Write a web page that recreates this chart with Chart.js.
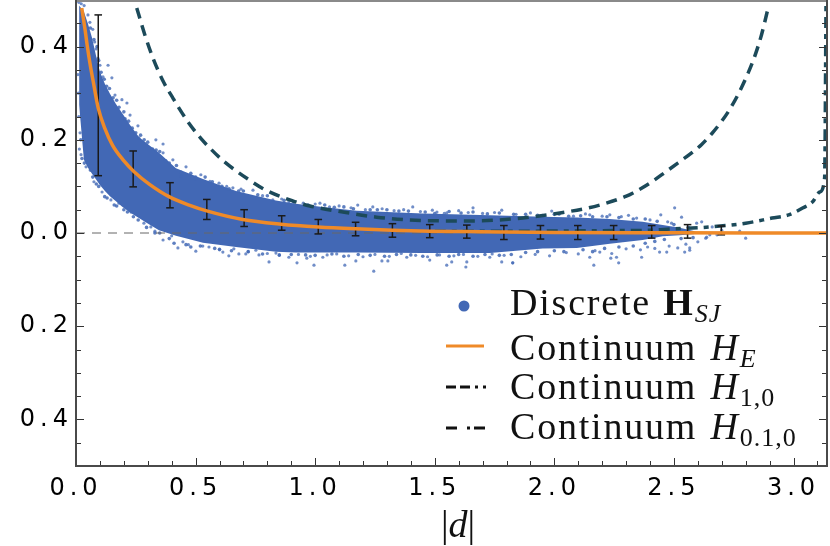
<!DOCTYPE html>
<html>
<head>
<meta charset="utf-8">
<script src="https://cdn.jsdelivr.net/npm/chart.js@4"></script>
<style>
  html, body { margin: 0; padding: 0; background: #fff; overflow: hidden; }
  #wrap { position: relative; width: 830px; height: 546px; }
  #chart { position: absolute; left: 0; top: 0; }
  .key { position: absolute; left: 510px; font: 38px/1 "Liberation Serif", serif; letter-spacing: 1.8px; white-space: nowrap; color: #111; }
  .key i { margin-left: 2px; }
  .key b { margin-left: 1px; }
  .key sub { font-size: 26px; line-height: 0; vertical-align: -7px; letter-spacing: 1px; }
  #xname { position: absolute; left: 441px; top: 505px; font: 38px/1 "Liberation Serif", serif; white-space: nowrap; color: #111; }
</style>
</head>
<body>
<div id="wrap">
  <canvas id="chart" width="830" height="546"></canvas>
  <div class="key" style="top:283px">Discrete <b>H</b><sub><i style="margin:0">SJ</i></sub></div>
  <div class="key" style="top:328px">Continuum <i>H</i><sub><i style="margin:0">E</i></sub></div>
  <div class="key" style="top:367px">Continuum <i>H</i><sub>1,0</sub></div>
  <div class="key" style="top:407px">Continuum <i>H</i><sub>0.1,0</sub></div>
  <div id="xname">|<i>d</i>|</div>
</div>
<script>
// axis ticks
const xTickValues = [0, 0.5, 1, 1.5, 2, 2.5, 3];
const xMinorValues = [0.1, 0.2, 0.3, 0.4, 0.6, 0.7, 0.8, 0.9, 1.1, 1.2, 1.3, 1.4, 1.6, 1.7, 1.8, 1.9, 2.1, 2.2, 2.3, 2.4, 2.6, 2.7, 2.8, 2.9, 3.1];
const yTickValues = [-0.4, -0.2, 0, 0.2, 0.4];
const yMinorValues = [-0.45, -0.35, -0.3, -0.25, -0.15, -0.1, -0.05, 0.05, 0.1, 0.15, 0.25, 0.3, 0.35, 0.45];

// dense part of the discrete cloud, upper and lower edge
const bandX = [0.013, 0.033, 0.05, 0.067, 0.084, 0.1, 0.121, 0.142, 0.167, 0.192, 0.226, 0.263, 0.305, 0.347, 0.418, 0.531, 0.669, 0.836, 0.919, 1.032, 1.174, 1.45, 1.73, 1.951, 2.094, 2.232, 2.369, 2.453, 2.524, 2.587];
const bandUpper = [0.488, 0.475, 0.449, 0.419, 0.38, 0.346, 0.32, 0.299, 0.277, 0.258, 0.232, 0.206, 0.189, 0.172, 0.139, 0.116, 0.09, 0.07, 0.063, 0.056, 0.048, 0.042, 0.038, 0.035, 0.033, 0.03, 0.024, 0.017, 0.011, 0.004];
const bandLower = [0.275, 0.157, 0.14, 0.127, 0.115, 0.103, 0.09, 0.079, 0.068, 0.057, 0.044, 0.032, 0.019, 0.006, -0.006, -0.021, -0.03, -0.04, -0.042, -0.042, -0.042, -0.043, -0.043, -0.033, -0.032, -0.023, -0.015, -0.007, -0.005, -0.002];

// loose points around the cloud
const dotX = [0.012, 0.022, 0.034, 0.05, 0.058, 0.07, 0.078, 0.084, 0.092, 0.1, 0.134, 0.113, 0.15, 0.121, 0.163, 0.192, 0.213, 0.226, 0.259, 0.263, 0.334, 0.364, 0.364, 0.405, 0.46, 0.522, 0.598, 0.656, 0.74, 0.823, 0.89, 1.02, 1.178, 1.241, 1.408, 1.66, 1.78, 1.55, 1.509, 2.503, 2.445, 1.989, 2.148, 2.232, 2.344, 2.474, 2.595, 2.616, 2.633, 2.165, 2.269, 2.365, 2.236, 2.148, 2.26, 2.19, 1.826, 2.516, 2.545, 2.566, 2.47, 2.44, 2.39, 2.8, 2.775, 2.637, 2.66, 2.68, 2.7, 2.566, 2.532, 2.65,
  0.008, 0.01, 0.012, 0.017, 0.014, 0.021, 0.042, 0.075, 0.109, 0.146, 0.18, 0.23, 0.284, 0.313, 0.364, 0.426, 0.447, 0.501, 0.556, 0.614, 0.639, 0.681, 0.71, 0.752, 0.765, 0.807, 0.836, 0.89, 0.924, 0.995, 1.124, 1.245, 1.17, 1.279, 1.304, 1.479, 1.55, 1.571, 1.63, 1.634, 1.78, 1.826, 1.383, 1.032, 0.965, 1.73,
  0.44, 0.5, 0.56, 0.63, 0.69, 0.78, 0.86, 0.95, 1.0, 1.06, 1.1, 1.15, 1.21, 1.28, 1.33, 1.37, 1.44, 1.49, 1.54, 1.6, 1.64, 1.7, 1.75, 1.84, 1.9, 1.95, 2.02, 2.08, 2.13, 2.2, 2.28, 2.31, 2.4, 2.49,
  0.33, 0.4, 0.47, 0.53, 0.6, 0.66, 0.72, 0.8, 0.85, 0.93, 0.98, 1.05, 1.09, 1.14, 1.2, 1.25, 1.31, 1.36, 1.42, 1.47, 1.52, 1.58, 1.62, 1.68, 1.74, 1.79, 1.86, 1.92, 1.98, 2.05, 2.1, 2.17, 2.24, 2.3, 2.36, 2.42, 2.48, 2.55, 2.6];
const dotY = [0.495, 0.492, 0.488, 0.468, 0.452, 0.437, 0.41, 0.395, 0.375, 0.36, 0.36, 0.335, 0.333, 0.307, 0.296, 0.286, 0.279, 0.253, 0.23, 0.204, 0.2, 0.191, 0.172, 0.157, 0.142, 0.125, 0.107, 0.097, 0.092, 0.071, 0.067, 0.064, 0.06, 0.056, 0.056, 0.054, 0.049, 0.043, 0.045, 0.054, 0.039, 0.047, 0.039, 0.039, 0.032, 0.024, 0.021, 0.024, -0.011, -0.069, -0.064, -0.052, -0.054, -0.052, -0.052, -0.041, -0.064, -0.032, -0.041, -0.037, -0.041, -0.041, -0.03, -0.011, 0.004, -0.009, 0.013, -0.004, 0.006, -0.032, 0.034, -0.004,
  0.34, 0.3, 0.25, 0.215, 0.18, 0.168, 0.142, 0.11, 0.088, 0.071, 0.064, 0.045, 0.021, 0.013, -0.015, -0.032, -0.019, -0.039, -0.03, -0.041, -0.049, -0.045, -0.045, -0.037, -0.047, -0.062, -0.043, -0.052, -0.064, -0.069, -0.069, -0.082, -0.06, -0.06, -0.06, -0.058, -0.069, -0.062, -0.073, -0.062, -0.062, -0.064, -0.052, -0.052, -0.054, -0.052,
  0.122, 0.116, 0.111, 0.1, 0.094, 0.08, 0.073, 0.064, 0.062, 0.056, 0.058, 0.054, 0.05, 0.052, 0.048, 0.05, 0.046, 0.049, 0.042, 0.048, 0.044, 0.042, 0.044, 0.04, 0.043, 0.038, 0.04, 0.036, 0.041, 0.036, 0.035, 0.038, 0.028, 0.021,
  0.004, -0.006, -0.025, -0.028, -0.036, -0.034, -0.04, -0.044, -0.048, -0.046, -0.05, -0.047, -0.045, -0.049, -0.051, -0.046, -0.05, -0.044, -0.048, -0.051, -0.047, -0.049, -0.046, -0.05, -0.045, -0.048, -0.051, -0.046, -0.049, -0.042, -0.045, -0.038, -0.044, -0.034, -0.036, -0.033, -0.028, -0.024, -0.019];

// points packed along the cloud edge
const edgeX = [0.06, 0.075, 0.088, 0.095, 0.105, 0.118, 0.128, 0.14, 0.155, 0.17, 0.18, 0.2, 0.205, 0.22, 0.235, 0.25, 0.27, 0.285, 0.3, 0.32, 0.335, 0.35, 0.375, 0.39, 0.42, 0.44, 0.48, 0.5, 0.54, 0.57, 0.61, 0.64, 0.68, 0.7, 0.76, 0.8, 0.87, 0.91, 0.97, 1.04, 1.08, 1.12, 1.16, 1.23, 1.26, 1.3, 1.35, 1.39, 1.46, 1.5, 1.56, 1.61, 1.66, 1.72, 1.77, 1.83, 1.88, 1.93, 2.0, 2.06, 2.11, 2.16, 2.22, 2.27, 2.33, 2.38, 2.43, 2.5, 2.56,
  0.02, 0.025, 0.035, 0.05, 0.06, 0.07, 0.085, 0.095, 0.12, 0.13, 0.16, 0.17, 0.2, 0.215, 0.24, 0.26, 0.295, 0.33, 0.35, 0.39, 0.41, 0.46, 0.48, 0.52, 0.58, 0.6, 0.65, 0.72, 0.78, 0.85, 0.9, 0.96, 1.0, 1.07, 1.12, 1.18, 1.23, 1.29, 1.34, 1.4, 1.45, 1.51, 1.56, 1.6, 1.66, 1.71, 1.77, 1.82, 1.88, 1.93, 2.0, 2.04, 2.12, 2.16, 2.21, 2.27, 2.33, 2.38, 2.42, 2.46, 2.53, 2.58];
const edgeY = [0.44, 0.415, 0.4, 0.37, 0.345, 0.33, 0.315, 0.31, 0.29, 0.285, 0.27, 0.26, 0.245, 0.24, 0.225, 0.215, 0.21, 0.2, 0.195, 0.18, 0.178, 0.175, 0.155, 0.15, 0.145, 0.13, 0.128, 0.12, 0.12, 0.11, 0.1, 0.095, 0.09, 0.09, 0.082, 0.08, 0.07, 0.066, 0.06, 0.06, 0.055, 0.056, 0.052, 0.05, 0.05, 0.05, 0.047, 0.047, 0.045, 0.042, 0.046, 0.043, 0.045, 0.041, 0.043, 0.04, 0.04, 0.038, 0.04, 0.036, 0.037, 0.035, 0.035, 0.033, 0.03, 0.03, 0.025, 0.018, 0.012,
  0.2, 0.16, 0.15, 0.15, 0.135, 0.12, 0.105, 0.1, 0.078, 0.075, 0.06, 0.058, 0.05, 0.045, 0.035, 0.028, 0.012, 0, 0, -0.012, -0.022, -0.025, -0.03, -0.028, -0.033, -0.035, -0.038, -0.04, -0.045, -0.047, -0.046, -0.047, -0.048, -0.045, -0.05, -0.046, -0.048, -0.05, -0.046, -0.047, -0.05, -0.047, -0.05, -0.046, -0.05, -0.046, -0.048, -0.046, -0.042, -0.04, -0.038, -0.04, -0.036, -0.04, -0.033, -0.03, -0.028, -0.022, -0.018, -0.014, -0.012, -0.01];

// continuum curves
const heX = [0.024, 0.038, 0.047, 0.059, 0.072, 0.093, 0.121, 0.153, 0.195, 0.244, 0.306, 0.389, 0.473, 0.55, 0.697, 0.857, 1.013, 1.169, 1.323, 1.479, 1.634, 1.789, 2.0, 2.5, 3.14];
const heY = [0.483, 0.436, 0.402, 0.362, 0.325, 0.268, 0.224, 0.188, 0.158, 0.131, 0.105, 0.078, 0.06, 0.047, 0.029, 0.019, 0.013, 0.009, 0.006, 0.004, 0.003, 0.002, 0.001, 0.0005, 0];
const h10X = [0.254, 0.288, 0.323, 0.365, 0.407, 0.427, 0.473, 0.522, 0.564, 0.62, 0.724, 0.794, 0.906, 0.978, 1.116, 1.257, 1.396, 1.534, 1.674, 1.842, 1.897, 2.023, 2.134, 2.21, 2.301, 2.329, 2.399, 2.468, 2.524, 2.574, 2.616, 2.658, 2.7, 2.733, 2.768, 2.81, 2.837, 2.866, 2.893];
const h10Y = [0.483, 0.425, 0.374, 0.325, 0.288, 0.271, 0.235, 0.203, 0.18, 0.153, 0.114, 0.092, 0.069, 0.058, 0.045, 0.034, 0.028, 0.026, 0.026, 0.031, 0.034, 0.043, 0.053, 0.063, 0.079, 0.086, 0.107, 0.132, 0.153, 0.172, 0.19, 0.213, 0.24, 0.265, 0.297, 0.343, 0.378, 0.425, 0.481];
const h010X = [1.5, 1.9, 2.2, 2.4, 2.47, 2.65, 2.8, 2.91, 2.98, 3.04, 3.08, 3.11, 3.13, 3.136];
const h010Y = [0.004, 0.004, 0.005, 0.006, 0.008, 0.013, 0.021, 0.032, 0.039, 0.054, 0.067, 0.088, 0.118, 0.5];

// error bars
const errX = [0.093, 0.239, 0.393, 0.547, 0.703, 0.86, 1.013, 1.169, 1.323, 1.479, 1.634, 1.789, 1.942, 2.098, 2.248, 2.407, 2.557, 2.698];
const errHigh = [0.468, 0.176, 0.108, 0.072, 0.05, 0.037, 0.029, 0.023, 0.02, 0.018, 0.017, 0.016, 0.016, 0.016, 0.016, 0.016, 0.018, 0.015];
const errLow = [0.123, 0.099, 0.054, 0.029, 0.014, 0.006, -0.002, -0.006, -0.009, -0.01, -0.011, -0.014, -0.013, -0.014, -0.014, -0.011, -0.011, -0.004];

const zeroX = [0, 3.14];
const zeroY = [0, 0];

const BLUE = '#4268b5';
const ORANGE = '#ef8a28';
const TEAL = '#1c4a5a';

function pts(xs, ys) {
  return xs.map((x, i) => ({ x: x, y: ys[i] }));
}

// each bar is low, high, gap
const errPoints = [];
errX.forEach((x, i) => {
  errPoints.push({ x: x, y: errLow[i] }, { x: x, y: errHigh[i] }, { x: x, y: null });
});

// frame and inward ticks, mathematica style
const framePlugin = {
  id: 'frame',
  beforeDraw(chart) {
    chart.ctx.letterSpacing = '5px';
  },
  afterDatasetsDraw(chart) {
    const ctx = chart.ctx, a = chart.chartArea, sx = chart.scales.x, sy = chart.scales.y;
    ctx.save();
    ctx.letterSpacing = '0px';
    ctx.strokeStyle = '#333';
    ctx.lineWidth = 1;
    function tick(x1, y1, x2, y2) {
      ctx.beginPath();
      ctx.moveTo(x1, y1);
      ctx.lineTo(x2, y2);
      ctx.stroke();
    }
    xTickValues.forEach(v => { const p = Math.round(sx.getPixelForValue(v)) + 0.5; tick(p, a.bottom, p, a.bottom - 8); });
    xMinorValues.forEach(v => { const p = Math.round(sx.getPixelForValue(v)) + 0.5; tick(p, a.bottom, p, a.bottom - 5); });
    yTickValues.forEach(v => {
      const p = Math.round(sy.getPixelForValue(v)) + 0.5;
      tick(a.left, p, a.left + 8, p);
      tick(a.right, p, a.right - 8, p);
    });
    yMinorValues.forEach(v => {
      const p = Math.round(sy.getPixelForValue(v)) + 0.5;
      tick(a.left, p, a.left + 5, p);
      tick(a.right, p, a.right - 5, p);
    });
    ctx.lineWidth = 2;
    ctx.strokeStyle = '#8a8a8a';
    tick(a.left, 1, a.right, 1);
    ctx.strokeStyle = '#4a4a4a';
    tick(a.left, 0, a.left, a.bottom + 1);
    tick(a.left, a.bottom, a.right + 1, a.bottom);
    tick(a.right, 0, a.right, a.bottom + 1);
    ctx.restore();
  },
  afterDraw(chart) {
    // legend keys
    const ctx = chart.ctx;
    ctx.save();
    ctx.fillStyle = BLUE;
    ctx.beginPath();
    ctx.arc(464, 306, 5.5, 0, Math.PI * 2);
    ctx.fill();
    ctx.strokeStyle = ORANGE;
    ctx.lineWidth = 3;
    ctx.beginPath(); ctx.moveTo(446, 346); ctx.lineTo(484, 346); ctx.stroke();
    ctx.strokeStyle = '#111';
    ctx.setLineDash([10, 4, 10, 5, 3, 5, 3]);
    ctx.beginPath(); ctx.moveTo(446, 387); ctx.lineTo(486, 387); ctx.stroke();
    ctx.setLineDash([11, 10, 3, 4, 11]);
    ctx.beginPath(); ctx.moveTo(446, 428); ctx.lineTo(486, 428); ctx.stroke();
    ctx.restore();
  }
};

new Chart(document.getElementById('chart').getContext('2d'), {
  data: {
    datasets: [
      { type: 'line', data: pts(bandX, bandUpper), borderWidth: 0, pointRadius: 0, backgroundColor: BLUE, fill: '+1', order: 9 },
      { type: 'line', data: pts(bandX, bandLower), borderWidth: 0, pointRadius: 0, fill: false, order: 9 },
      { type: 'scatter', data: pts(dotX, dotY), pointRadius: 1.6, pointBorderWidth: 0, pointBackgroundColor: 'rgba(66,104,181,0.75)', order: 8 },
      { type: 'scatter', data: pts(edgeX, edgeY), pointRadius: 1.8, pointBorderWidth: 0, pointBackgroundColor: 'rgba(66,104,181,0.85)', order: 8 },
      { type: 'line', data: pts(zeroX, zeroY), borderColor: '#666', borderWidth: 1, borderDash: [9, 7], pointRadius: 0, order: 7 },
      { type: 'line', data: errPoints, borderColor: '#1a1a1a', borderWidth: 1.5, spanGaps: false, pointStyle: 'line', pointRadius: 3.8, pointBorderWidth: 1.5, pointBorderColor: '#1a1a1a', order: 4 },
      { type: 'line', data: pts(h10X, h10Y), borderColor: TEAL, borderWidth: 3.5, borderDash: [11, 7], pointRadius: 0, cubicInterpolationMode: 'monotone', order: 6 },
      { type: 'line', data: pts(h010X, h010Y), borderColor: TEAL, borderWidth: 3.5, borderDash: [11, 6, 5, 6], pointRadius: 0, cubicInterpolationMode: 'monotone', order: 5 },
      { type: 'line', data: pts(heX, heY), borderColor: ORANGE, borderWidth: 3.5, pointRadius: 0, cubicInterpolationMode: 'monotone', order: 3 }
    ]
  },
  options: {
    responsive: false,
    animation: false,
    events: [],
    layout: { autoPadding: false, padding: { left: 0, right: 3, top: 0, bottom: 0 } },
    plugins: { legend: { display: false }, tooltip: { enabled: false } },
    scales: {
      x: {
        type: 'linear',
        min: 0,
        max: 3.14,
        grid: { display: false, drawTicks: false },
        border: { display: false },
        afterFit: s => { s.height = 80; s.paddingLeft = 0; s.paddingRight = 0; s.paddingTop = 0; s.paddingBottom = 0; },
        afterBuildTicks: s => { s.ticks = xTickValues.map(v => ({ value: v })); },
        ticks: {
          padding: 8,
          maxRotation: 0,
          autoSkip: false,
          color: '#000',
          font: { family: '"DejaVu Sans"', size: 24 },
          callback: v => v.toFixed(1)
        }
      },
      y: {
        type: 'linear',
        min: -0.5,
        max: 0.5,
        grid: { display: false, drawTicks: false },
        border: { display: false },
        afterFit: s => { s.width = 76; s.paddingLeft = 0; s.paddingRight = 0; s.paddingTop = 0; s.paddingBottom = 0; },
        afterBuildTicks: s => { s.ticks = yTickValues.map(v => ({ value: v })); },
        ticks: {
          padding: 3,
          autoSkip: false,
          color: '#000',
          font: { family: '"DejaVu Sans"', size: 24 },
          callback: v => Math.abs(v).toFixed(1)
        }
      }
    }
  },
  plugins: [framePlugin]
});
</script>
</body>
</html>
